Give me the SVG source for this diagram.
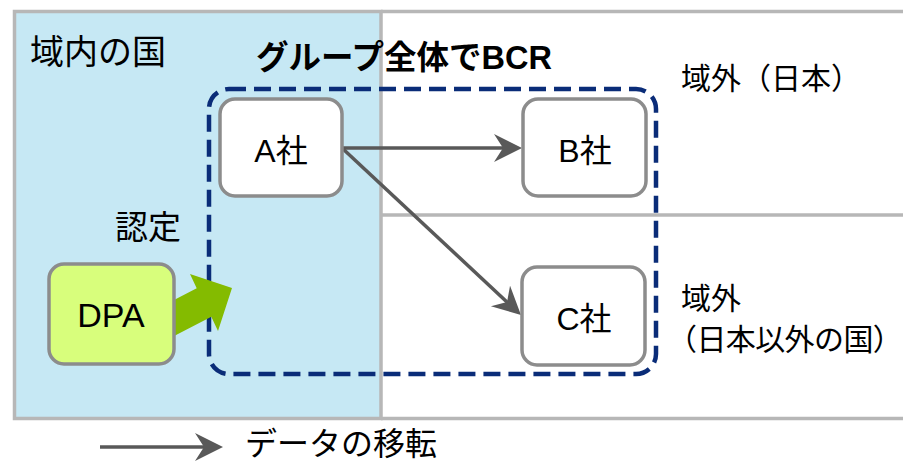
<svg xmlns="http://www.w3.org/2000/svg" width="903" height="461" viewBox="0 0 903 461">
<style>
text{font-family:"Liberation Sans","Noto Sans CJK JP",sans-serif;fill:#000}
.lbl{font-size:30px}
.box{fill:#fff;stroke:#8C8C8C;stroke-width:3.5}
.conn{stroke:#595959;stroke-width:3.5;fill:none}
.region{stroke:#B7B7B7;stroke-width:3.5;fill:none}
.node{font-size:32px;text-anchor:middle}
</style>
<defs>
<marker id="ah" markerUnits="userSpaceOnUse" markerWidth="30" markerHeight="30" refX="23" refY="14" orient="auto" viewBox="0 0 30 30">
<path d="M0,0 L28,14 L0,28 L9,14 z" fill="#595959"/>
</marker>
</defs>
<g id="regions">
<rect x="14.5" y="11.5" width="366.5" height="407" fill="#C6E8F4" stroke="#B7B7B7" stroke-width="3.5"/>
<line class="region" x1="381" y1="11.5" x2="903" y2="11.5"/>
<line class="region" x1="381" y1="215" x2="903" y2="215"/>
<line class="region" x1="381" y1="418.5" x2="903" y2="418.5"/>
<text class="lbl" x="30" y="64" style="font-size:34px">域内の国</text>
<text class="lbl" x="681" y="89">域外（日本）</text>
<text class="lbl" x="681" y="309">域外</text>
<text class="lbl" x="667" y="350" letter-spacing="-0.6">（日本以外の国）</text>
</g>
<g id="group-bcr">
<rect x="209" y="89" width="447" height="285" rx="20" fill="none" stroke="#0A2C78" stroke-width="4.5" stroke-dasharray="17 8"/>
<text x="256" y="69" font-size="32.5" font-weight="bold">グループ全体でBCR</text>
</g>
<g id="approval">
<polygon points="232,288 190,274 196.7,288.3 152.3,311.3 166.9,339.7 211.3,316.7 218,331" fill="#84BB00"/>
<text class="lbl" x="115" y="239" style="font-size:33px">認定</text>
</g>
<g id="connectors">
<line class="conn" x1="342" y1="148" x2="517" y2="148" marker-end="url(#ah)"/>
<line class="conn" x1="342" y1="148" x2="517.3" y2="311.6" marker-end="url(#ah)"/>
</g>
<g id="node-a">
<rect class="box" x="220" y="99" width="122" height="97" rx="15"/>
<text class="node" x="281" y="162">A社</text>
</g>
<g id="node-b">
<rect class="box" x="523" y="99" width="123" height="97" rx="15"/>
<text class="node" x="585" y="162">B社</text>
</g>
<g id="node-c">
<rect class="box" x="522" y="267" width="123" height="98" rx="15"/>
<text class="node" x="584" y="330">C社</text>
</g>
<g id="node-dpa">
<rect class="box" x="49" y="264" width="125" height="100" rx="15" style="fill:#D8FE7C"/>
<text class="node" x="111" y="327" style="font-size:34px">DPA</text>
</g>
<g id="legend">
<line class="conn" x1="100" y1="447" x2="218" y2="447" marker-end="url(#ah)"/>
<text class="lbl" x="245" y="455" style="font-size:32px">データの移転</text>
</g>
</svg>
